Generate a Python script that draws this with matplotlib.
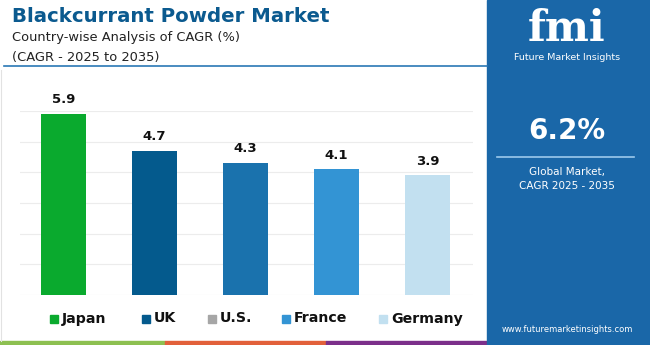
import matplotlib
matplotlib.use("Agg")
import matplotlib.pyplot as plt
from matplotlib.patches import Rectangle
from matplotlib.lines import Line2D

countries = ["Japan", "UK", "U.S.", "France", "Germany"]
cagr = [5.9, 4.7, 4.3, 4.1, 3.9]
bar_colors = ["#0aaa2e", "#045a8d", "#1a72ad", "#3394d4", "#c2e0f0"]
legend_colors = ["#0aaa2e", "#045a8d", "#a6a6a6", "#3394d4", "#c2e0f0"]
title = "Blackcurrant Powder Market"
subtitle1 = "Country-wise Analysis of CAGR (%)"
subtitle2 = "(CAGR - 2025 to 2035)"
global_cagr = "6.2%"

W, H = 650, 345
fig = plt.figure(figsize=(6.5, 3.45), dpi=100)
fig.patch.set_facecolor("white")

def fx(x):
    return x / W

def fy(y):
    return 1 - y / H

# main axes: x 20..473, y 111(=6)..295(=0)
ax = fig.add_axes([fx(20), fy(295), fx(473) - fx(20), fy(111) - fy(295)])
ax.set_xlim(-0.48, 4.5)
ax.set_ylim(0, 6.0)
ax.bar(range(len(cagr)), cagr, width=0.5, color=bar_colors, zorder=3)
for i, v in enumerate(cagr):
    ax.annotate(f"{v}", (i, v), xytext=(0, 5.5), textcoords="offset points",
                ha="center", va="bottom", fontsize=9.5, fontweight="bold",
                color="#111111", family="DejaVu Sans", zorder=4)
ax.set_yticks(range(0, 7))
ax.grid(axis="y", color="#ececec", linewidth=0.8, zorder=0)
ax.tick_params(left=False, bottom=False, labelleft=False, labelbottom=False)
for s in ax.spines.values():
    s.set_visible(False)
ax.set_facecolor("none")

# left thin border
fig.add_artist(Line2D([fx(1), fx(1)], [fy(70), fy(341)], color="#e2e2e2", linewidth=0.8))

# title & subtitles
fig.text(fx(12), fy(16), title, fontsize=14.2, fontweight="bold", color="#0b5a8f",
         ha="left", va="center", family="DejaVu Sans")
fig.text(fx(12), fy(37), subtitle1, fontsize=9.4, color="#222222",
         ha="left", va="center", family="DejaVu Sans")
fig.text(fx(12), fy(57), subtitle2, fontsize=9.4, color="#222222",
         ha="left", va="center", family="DejaVu Sans")
fig.add_artist(Line2D([fx(4), fx(487)], [fy(66), fy(66)], color="#2a78b5", linewidth=1.2))

# legend
leg_sq_x = [50, 142, 208, 282, 379]
for c, col, x in zip(countries, legend_colors, leg_sq_x):
    fig.add_artist(Rectangle((fx(x), fy(323)), 8 / W, 8 / H, color=col))
    fig.text(fx(x + 12), fy(318.5), c, fontsize=10.2, fontweight="bold",
             color="#111111", ha="left", va="center", family="DejaVu Sans")

# bottom strip
for x0, x1, col in [(0, 165, "#8dc051"), (165, 326, "#e2603a"), (326, 487, "#7b2f8a")]:
    fig.add_artist(Rectangle((fx(x0), 0), (x1 - x0) / W, 4 / H, color=col))

# side panel
panel_col = "#1a67a8"
fig.add_artist(Rectangle((fx(487), 0), (W - 487) / W, 1, color=panel_col))
cx = fx(567)
fig.text(cx, fy(29), "fmi", fontsize=30, fontweight="bold", color="white",
         ha="center", va="center", family="DejaVu Serif")
fig.text(cx, fy(58), "Future Market Insights", fontsize=6.8, color="white",
         ha="center", va="center", family="DejaVu Sans")
fig.text(cx, fy(131), global_cagr, fontsize=20, fontweight="bold", color="white",
         ha="center", va="center", family="DejaVu Sans")
fig.add_artist(Line2D([fx(497), fx(634)], [fy(157), fy(157)], color="#9cc9ec", linewidth=1.2))
fig.text(cx, fy(172), "Global Market,", fontsize=7.5, color="white",
         ha="center", va="center", family="DejaVu Sans")
fig.text(cx, fy(186), "CAGR 2025 - 2035", fontsize=7.5, color="white",
         ha="center", va="center", family="DejaVu Sans")
fig.text(cx, fy(330), "www.futuremarketinsights.com", fontsize=6, color="white",
         ha="center", va="center", family="DejaVu Sans")

fig.savefig("out.png", dpi=100)
